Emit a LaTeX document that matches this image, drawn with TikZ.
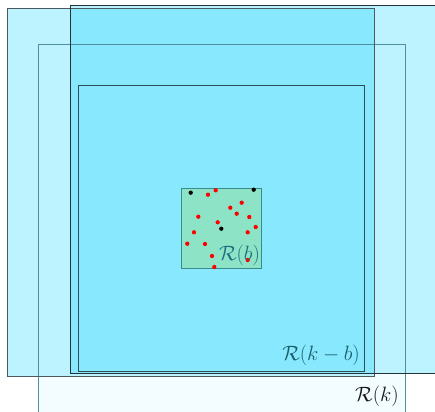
\documentclass[tikz,border=0pt]{standalone}
\usepackage{amsmath}
\begin{document}
\begin{tikzpicture}[x=1pt,y=-1pt,
  lightfill/.style={fill=cyanlight},
  rdot/.style={circle,fill=red,inner sep=0pt,minimum size=4.3pt},
  bdot/.style={circle,fill=black,inner sep=0pt,minimum size=4.3pt},
  lbl/.style={inner sep=0pt,font=\fontsize{21}{24}\selectfont}]
\definecolor{cyanlight}{HTML}{BDF2FF}
\definecolor{cyandark}{HTML}{88E8FD}
\definecolor{rkfill}{HTML}{F3FCFF}
\definecolor{rbfill}{HTML}{8DE3C6}
\definecolor{rkedge}{HTML}{4F8F9E}
\definecolor{pedge}{HTML}{4A5A60}
\definecolor{qedge}{HTML}{22343A}
\definecolor{rkbedge}{HTML}{2C4E58}
\definecolor{rbedge}{HTML}{3A8C8C}
\definecolor{tealtext}{HTML}{1F6E80}
\useasboundingbox (0,0) rectangle (435,411);
\clip (0,0) rectangle (435,411);
% R(k) region
\fill[rkfill] (38,44) rectangle (405,420);
% P and Q
\fill[lightfill] (7,9) rectangle (374,376);
\fill[lightfill] (70,6) rectangle (440,373);
\fill[cyandark] (70,9) rectangle (374,373);
% borders
\draw[rkedge,line width=0.9pt] (38,44) rectangle (405,420);
\draw[pedge,line width=1pt] (7,9) rectangle (374,376);
\draw[qedge,line width=1pt] (70,6) rectangle (440,373);
\draw[rkbedge,line width=1pt] (78,86) rectangle (364,371);
% R(b)
\draw[rbedge,fill=rbfill,line width=0.9pt] (181,188) rectangle (261,268);
% dots
\node[bdot] (b1) at (190.7,192.7) {};
\node[bdot] (b2) at (253.7,189.7) {};
\node[bdot] (b3) at (221.3,228.7) {};
\node[rdot] (r1) at (208,194.7) {};
\node[rdot] (r2) at (215.7,190.3) {};
\node[rdot] (r3) at (241.7,202.7) {};
\node[rdot] (r4) at (230.3,207.7) {};
\node[rdot] (r5) at (236.7,213.7) {};
\node[rdot] (r6) at (249.3,217) {};
\node[rdot] (r7) at (198.3,216.7) {};
\node[rdot] (r8) at (217.7,222.3) {};
\node[rdot] (r9) at (255.7,227) {};
\node[rdot] (r10) at (194,232.3) {};
\node[rdot] (r11) at (247.7,232.3) {};
\node[rdot] (r12) at (187.3,243.7) {};
\node[rdot] (r13) at (205,244) {};
\node[rdot] (r14) at (212,256) {};
\node[rdot] (r15) at (247.7,260) {};
\node[rdot] (r16) at (214.3,267) {};
% labels
\node[lbl,text=tealtext] (lb) at (239.5,255) {$\mathcal{R}(b)$};
\node[lbl,text=tealtext!85!black] (lkb) at (321,355) {$\mathcal{R}(k-b)$};
\node[lbl,text=black!90] (lk) at (377,396) {$\mathcal{R}(k)$};
\end{tikzpicture}
\end{document}
